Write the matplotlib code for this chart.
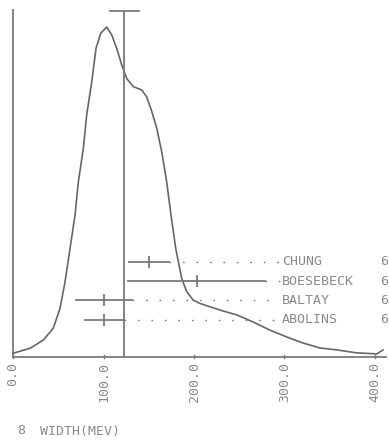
import numpy as np
import matplotlib
matplotlib.use("Agg")
import matplotlib.pyplot as plt

# Ideogram curve (arbitrary units, peak = 1)
curve_x = [0.3, 18.8, 33.5, 44.5, 51.9, 57.5, 63.0, 68.5, 72.2, 77.7, 81.4, 87.0, 91.7,
           96.9, 103.5, 109.1, 114.6, 120.1, 125.6, 132.9, 142.2, 147.7, 153.3, 158.8,
           164.3, 169.8, 174.6, 179.8, 186.4, 191.9, 199.2, 206.6, 228.7, 247.5, 265.2,
           284.0, 302.8, 320.4, 339.2, 357.9, 380.1, 402.2, 408.8]
curve_y = [0.010, 0.025, 0.050, 0.086, 0.146, 0.227, 0.328, 0.429, 0.530, 0.632, 0.733,
           0.834, 0.935, 0.981, 1.000, 0.976, 0.935, 0.885, 0.844, 0.819, 0.809, 0.788,
           0.744, 0.693, 0.622, 0.530, 0.429, 0.328, 0.237, 0.197, 0.171, 0.161, 0.141,
           0.126, 0.105, 0.080, 0.059, 0.041, 0.026, 0.020, 0.011, 0.008, 0.020]

# Measurements (width in MeV)
experiments = ["CHUNG", "BOESEBECK", "BALTAY", "ABOLINS"]
widths = [150, 203, 101, 101]
errors = [22, 76, 31, 22]
right_col = ["6", "6", "6", "6"]

mean_width = 123
mean_error = 16

xticks = [0, 100, 200, 300, 400]
xtick_labels = ["0.0", "100.0", "200.0", "300.0", "400.0"]
xlabel_text = "WIDTH(MEV)"
plot_number = "8"

LINE = "#7a7a7a"
CURVE = "#666666"
TXT = "#8a8a8a"
FONT = "DejaVu Sans Mono"

fig = plt.figure(figsize=(3.89, 4.46), dpi=100)
ax = fig.add_axes([0, 0, 1, 1])
ax.set_xlim(-14.4, 415.5)
ax.set_ylim(-0.2716, 1.082)
ax.axis("off")

# axes frame
ax.plot([0, 0], [0, 1.052], color=LINE, lw=1.3)
ax.plot([0, 412], [0, 0], color=LINE, lw=1.3)
for t, lab in zip(xticks, xtick_labels):
    ax.plot([t, t], [-0.006, 0.006], color=LINE, lw=1.0)
    ax.text(t, -0.018, lab, rotation=90, ha="center", va="top",
            fontsize=9.5, family=FONT, color=TXT)

# ideogram
ax.plot(curve_x, curve_y, color=CURVE, lw=1.2, solid_joinstyle="round")

# mean line with cap
ax.plot([mean_width, mean_width], [0, 1.049], color=LINE, lw=1.3)
ax.plot([mean_width - mean_error, mean_width + mean_error], [1.049, 1.049],
        color=LINE, lw=1.3)

# measurements
row_top = 0.287
row_step = 0.0585
for i, (name, w, e, rc) in enumerate(zip(experiments, widths, errors, right_col)):
    y = row_top - i * row_step
    ax.plot([w - e, w + e], [y, y], color=LINE, lw=1.3)
    ax.plot([w], [y], marker="|", ms=8, mew=1.3, color=LINE)
    ax.plot([w + e, 295], [y, y], color=LINE, lw=1.0, linestyle=(0, (1.2, 8.5)))
    ax.text(297, y, name, ha="left", va="center", fontsize=9.5, family=FONT, color=TXT)
    ax.text(406, y, rc, ha="left", va="center", fontsize=9.5, family=FONT, color=TXT)

fig.text(17 / 389, 1 - 431 / 446, plot_number, ha="left", va="center",
         fontsize=9.5, family=FONT, color=TXT)
fig.text(40 / 389, 1 - 431 / 446, xlabel_text, ha="left", va="center",
         fontsize=9.5, family=FONT, color=TXT)

fig.savefig("out.png", dpi=100)
